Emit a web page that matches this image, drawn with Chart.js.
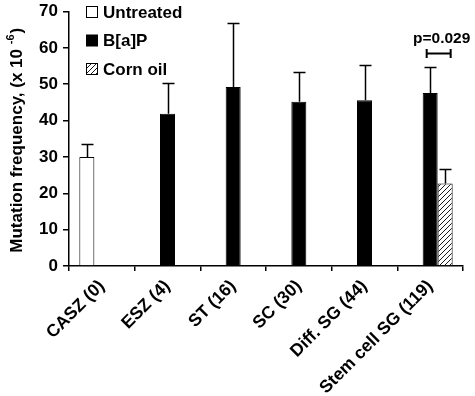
<!DOCTYPE html>
<html lang="en">
<head>
  <meta charset="UTF-8" />
  <title>Mutation frequency</title>
  <script src="https://cdn.jsdelivr.net/npm/chart.js"></script>
  <style>
    body { margin: 0; background: #fff; }
    #wrap { width: 475px; height: 396px; }
  </style>
</head>
<body>
  <div id="wrap"><canvas id="chart"></canvas></div>

  <script>
    // data
    const categories = ['CASZ (0)', 'ESZ (4)', 'ST (16)', 'SC (30)', 'Diff. SG (44)', 'Stem cell SG (119)'];
    const seriesNames = ['Untreated', 'B[a]P', 'Corn oil'];
    const untreated    = [30, null, null, null, null, null];
    const untreatedErr = [3.5, null, null, null, null, null];
    const bap          = [null, 41.9, 49.2, 45.2, 45.6, 47.6];
    const bapErr       = [null, 8.3, 17.5, 8.1, 9.7, 7.2];
    const cornOil      = [null, null, null, null, null, 22.7];
    const cornOilErr   = [null, null, null, null, null, 3.9];
    const yTicks = [0, 10, 20, 30, 40, 50, 60, 70];
    const pLabel = 'p=0.029';
    const pLevel = 58.6;

    const FONT = '"Liberation Sans", Arial, sans-serif';

    function hatch() {
      const c = document.createElement('canvas');
      c.width = 5; c.height = 5;
      const g = c.getContext('2d');
      g.fillStyle = '#fff';
      g.fillRect(0, 0, 5, 5);
      g.strokeStyle = '#000';
      g.lineWidth = 0.9;
      g.beginPath();
      g.moveTo(-1, 6); g.lineTo(6, -1);
      g.moveTo(-1, 1); g.lineTo(1, -1);
      g.moveTo(4, 6); g.lineTo(6, 4);
      g.stroke();
      return g.createPattern(c, 'repeat');
    }

    const errors = [untreatedErr, bapErr, cornOilErr];

    const extras = {
      id: 'extras',
      afterDatasetsDraw(chart) {
        const ctx = chart.ctx;
        const y = chart.scales.y;
        ctx.save();
        ctx.strokeStyle = '#000';
        ctx.lineWidth = 1.5;
        // upward error bars
        chart.data.datasets.forEach((ds, i) => {
          const meta = chart.getDatasetMeta(i);
          meta.data.forEach((bar, j) => {
            const v = ds.data[j], e = errors[i][j];
            if (v == null || e == null) return;
            const top = Math.round(y.getPixelForValue(v + e)) + 0.5;
            const x = Math.round(bar.x) + 0.5;
            ctx.beginPath();
            ctx.moveTo(x, bar.y);
            ctx.lineTo(x, top);
            ctx.moveTo(x - 6, top);
            ctx.lineTo(x + 6, top);
            ctx.stroke();
          });
        });

        // significance bracket between B[a]P and corn oil in last group
        const last = categories.length - 1;
        const b1 = chart.getDatasetMeta(1).data[last];
        const b2 = chart.getDatasetMeta(2).data[last];
        const x1 = b1.x - b1.width / 2 + 4;
        const x2 = b2.x + b2.width / 2 - 2;
        const py = Math.round(y.getPixelForValue(pLevel)) + 0.5;
        ctx.lineWidth = 2;
        ctx.beginPath();
        ctx.moveTo(x1, py); ctx.lineTo(x2, py);
        ctx.moveTo(x1, py - 4.5); ctx.lineTo(x1, py + 4.5);
        ctx.moveTo(x2, py - 4.5); ctx.lineTo(x2, py + 4.5);
        ctx.stroke();
        ctx.fillStyle = '#000';
        ctx.font = 'bold 15.5px ' + FONT;
        ctx.textAlign = 'center';
        ctx.textBaseline = 'alphabetic';
        ctx.fillText(pLabel, (x1 + x2) / 2 + 3, py - 11);

        // legend inside the plot
        const left = chart.chartArea.left;
        ctx.font = 'bold 17px ' + FONT;
        ctx.textAlign = 'left';
        ctx.textBaseline = 'middle';
        chart.data.datasets.forEach((ds, i) => {
          const cy = 12 + i * 28.5;
          ctx.fillStyle = ds.backgroundColor;
          ctx.fillRect(left + 17.5, cy - 5.5, 11, 11);
          ctx.lineWidth = 1;
          ctx.strokeStyle = '#000';
          ctx.strokeRect(left + 17.5, cy - 5.5, 11, 11);
          ctx.fillStyle = '#000';
          ctx.fillText(ds.label, left + 34, cy + 1);
        });

        // y axis title with superscript
        const main = 'Mutation frequency, (x 10 ';
        const sup = '-6';
        ctx.translate(17, (chart.chartArea.top + chart.chartArea.bottom) / 2 + 2);
        ctx.rotate(-Math.PI / 2);
        ctx.font = 'bold 17px ' + FONT;
        const wMain = ctx.measureText(main).width;
        ctx.font = 'bold 11px ' + FONT;
        const wSup = ctx.measureText(sup).width;
        ctx.font = 'bold 17px ' + FONT;
        const wEnd = ctx.measureText(')').width;
        let x0 = -(wMain + wSup + wEnd) / 2;
        ctx.textBaseline = 'middle';
        ctx.fillText(main, x0, 0);
        ctx.font = 'bold 11px ' + FONT;
        ctx.fillText(sup, x0 + wMain, -6);
        ctx.font = 'bold 17px ' + FONT;
        ctx.fillText(')', x0 + wMain + wSup + 1, 0);
        ctx.restore();
      }
    };

    new Chart(document.getElementById('chart'), {
      type: 'bar',
      data: {
        labels: categories,
        datasets: [
          { label: seriesNames[0], data: untreated, backgroundColor: '#fff', borderColor: '#000', borderWidth: 1 },
          { label: seriesNames[1], data: bap, backgroundColor: '#000', borderColor: '#000', borderWidth: 1 },
          { label: seriesNames[2], data: cornOil, backgroundColor: hatch(), borderColor: '#000', borderWidth: 1 }
        ]
      },
      options: {
        responsive: true,
        maintainAspectRatio: false,
        animation: false,
        events: [],
        layout: { padding: { left: 0, right: 12, top: 11.5, bottom: 0 } },
        datasets: { bar: { barPercentage: 1, categoryPercentage: 0.685 } },
        plugins: { legend: { display: false }, tooltip: { enabled: false } },
        scales: {
          x: {
            afterFit(s) { s.height = 130; s.paddingLeft = 0; s.paddingRight = 0; },
            border: { color: '#000', width: 1.5 },
            grid: { drawOnChartArea: false, drawTicks: true, tickLength: 5, color: '#000', lineWidth: 1.5, offset: true },
            ticks: {
              color: '#000', font: { family: FONT, size: 17.5, weight: 'bold' },
              maxRotation: 45, minRotation: 45, autoSkip: false, padding: 5
            }
          },
          y: {
            min: 0, max: 70,
            afterFit(s) { s.width = 69; s.paddingTop = 0; s.paddingBottom = 0; },
            afterBuildTicks(s) { s.ticks = yTicks.map(v => ({ value: v })); },
            border: { color: '#000', width: 1.5 },
            grid: { drawOnChartArea: false, drawTicks: true, tickLength: 6, color: '#000', lineWidth: 1.5 },
            ticks: { color: '#000', font: { family: FONT, size: 17, weight: 'bold' }, padding: 5 }
          }
        }
      },
      plugins: [extras]
    });
  </script>
</body>
</html>
